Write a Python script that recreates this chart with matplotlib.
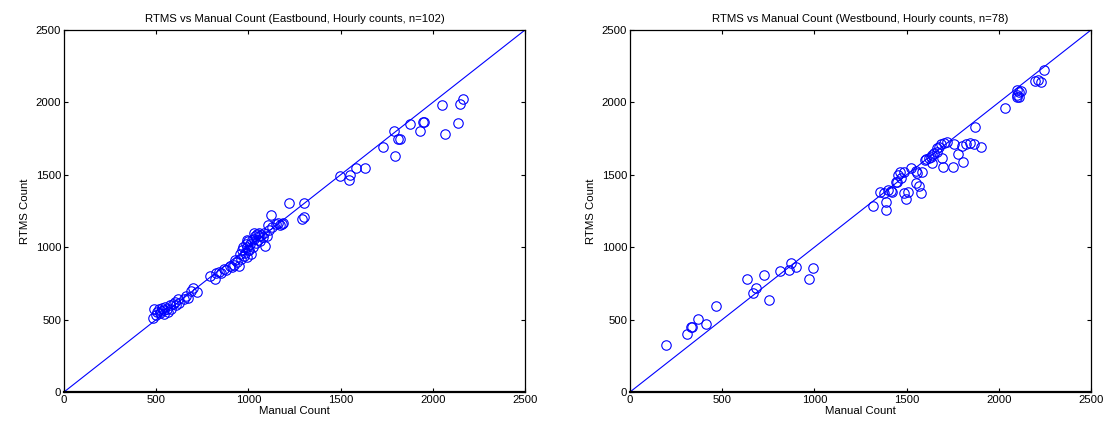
import numpy as np
import matplotlib.pyplot as plt

plt.rcParams['font.family'] = ['Liberation Sans', 'DejaVu Sans']
plt.rcParams['font.size'] = 8.2

# Eastbound hourly counts (manual, rtms)
east_manual = [
    # low cluster
    484, 490, 500, 505, 515, 520, 525, 530, 540, 545, 550, 560, 565, 575, 580,
    590, 600, 610, 620, 625, 650, 660, 670, 690, 720, 700,
    # middle
    790, 820, 825, 840, 850, 870, 880, 900, 910, 920, 930, 940, 950,
    # upper cluster
    955, 960, 965, 970, 975, 980, 985, 990, 995, 1000, 1005, 1010, 1015, 1020,
    1025, 1030, 1035, 1040, 1045, 1050, 1055, 1060, 1065, 1070, 1080, 1085,
    1090, 1100, 1105, 1110, 1120, 1130, 1150, 1160, 1170, 1180, 1185, 1000,
    990, 1030,
    # high
    1222, 1302, 1289, 1303, 1497, 1551, 1548, 1584, 1631, 1728, 1797, 1790,
    1813, 1824, 1876, 1931, 1945, 1950, 2050, 2068, 2137, 2148, 2164,
]
east_rtms = [
    509, 570, 530, 550, 575, 545, 560, 580, 540, 565, 590, 575, 555, 600, 570,
    610, 620, 600, 640, 615, 640, 660, 650, 700, 690, 720,
    800, 780, 820, 830, 820, 850, 840, 870, 860, 880, 910, 900, 870,
    950, 920, 980, 1000, 940, 960, 1020, 930, 1000, 1040, 980, 1020, 950, 1050,
    1000, 1060, 1080, 1030, 1090, 1050, 1080, 1100, 1040, 1085, 1070, 1100,
    1010, 1080, 1150, 1120, 1222, 1140, 1160, 1170, 1150, 1160, 1170, 980,
    1050, 1100,
    1303, 1303, 1193, 1211, 1492, 1499, 1464, 1545, 1545, 1690, 1632, 1802,
    1747, 1747, 1851, 1802, 1867, 1862, 1984, 1780, 1860, 1989, 2021,
]

# Westbound hourly counts (manual, rtms)
west_manual = [
    194, 308, 330, 338, 371, 411, 464, 634, 665, 681, 728, 752, 815, 861, 873,
    902, 971, 993,
    1319, 1386, 1386, 1355, 1377, 1398, 1413, 1422, 1486, 1507, 1495, 1549,
    1567, 1576, 1486, 1464, 1455, 1449, 1522, 1549, 1558, 1585, 1640, 1603,
    1621, 1630, 1640, 1649, 1667, 1694, 1697, 1663, 1676, 1685, 1703, 1721,
    1757, 1752, 1806, 1781, 1803, 1821, 1842, 1866, 1906, 1873, 2034, 2098,
    2110, 2120, 2101, 2098, 2110, 2196, 2210, 2228, 2243, 1440, 1470, 1600,
]
west_rtms = [
    322, 403, 447, 447, 506, 467, 594, 780, 681, 718, 806, 637, 836, 840, 893,
    863, 783, 854,
    1285, 1314, 1257, 1379, 1376, 1395, 1390, 1383, 1376, 1383, 1333, 1441,
    1423, 1376, 1517, 1522, 1499, 1452, 1545, 1528, 1510, 1517, 1579, 1607,
    1614, 1625, 1637, 1648, 1660, 1614, 1556, 1687, 1694, 1713, 1722, 1729,
    1713, 1556, 1586, 1646, 1701, 1713, 1722, 1711, 1694, 1832, 1963, 2086,
    2074, 2081, 2051, 2035, 2039, 2148, 2155, 2139, 2224, 1450, 1480, 1600,
]

panels = [
    (east_manual, east_rtms, 'RTMS vs Manual Count (Eastbound, Hourly counts, n=102)'),
    (west_manual, west_rtms, 'RTMS vs Manual Count (Westbound, Hourly counts, n=78)'),
]
lims = [0, 2500]
ticks = [0, 500, 1000, 1500, 2000, 2500]

fig = plt.figure(figsize=(11.09, 4.33), dpi=100)
lefts = [64 / 1109, 630 / 1109]
for left, (xm, yr, title) in zip(lefts, panels):
    ax = fig.add_axes([left, 41 / 433, 461 / 1109, 362 / 433])
    ax.plot(lims, lims, color='#0000ff', lw=0.8)
    ax.plot(xm, yr, ls='None', marker='o', ms=6.8, mfc='none',
            mec='#0000ff', mew=0.8)
    ax.set_xlim(lims)
    ax.set_ylim(lims)
    ax.set_xticks(ticks)
    ax.set_yticks(ticks)
    ax.tick_params(direction='in', length=3, width=0.8, top=True, right=True,
                   pad=2)
    for s in ax.spines.values():
        s.set_linewidth(0.9)
    ax.spines['bottom'].set_linewidth(1.6)
    ax.set_title(title, fontsize=8.2, pad=6)
    ax.set_xlabel('Manual Count', labelpad=1)
    ax.set_ylabel('RTMS Count', labelpad=4)

fig.savefig('out.png', dpi=100)
